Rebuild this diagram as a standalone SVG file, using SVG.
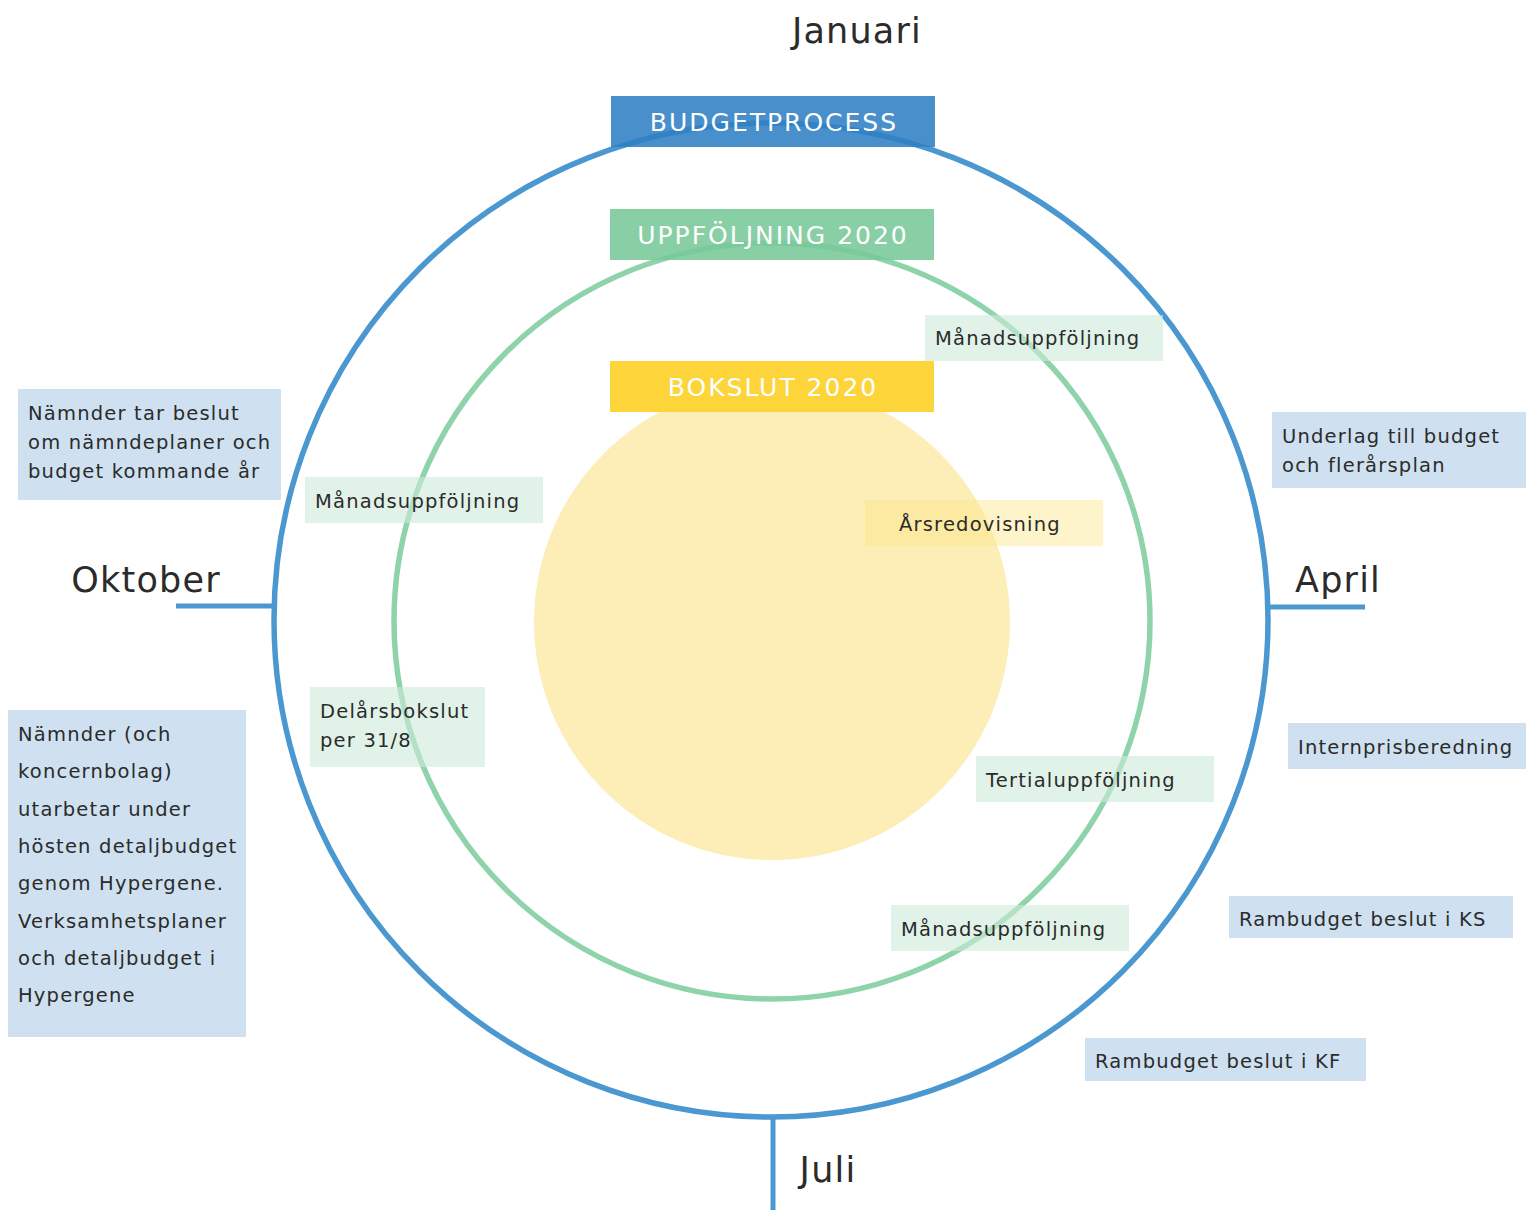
<svg xmlns="http://www.w3.org/2000/svg" width="1538" height="1210" viewBox="0 0 1538 1210">
<style>
text{font-family:"DejaVu Sans","Noto Sans",sans-serif;fill:#2b2b2b}
.month{font-size:35px;letter-spacing:1.2px}
.head{font-size:25px;fill:#fff;text-anchor:middle;letter-spacing:2px}
.lbl{font-size:19.5px;letter-spacing:1.2px}
.blue{fill:#cfe1f0}
.green{fill:#cdebd8;fill-opacity:0.6}
.ring{fill:none;stroke-width:5.5}
</style>
<rect width="1538" height="1210" fill="#fff"/>
<g id="connectors">
<circle cx="772" cy="622" r="238" fill="#fdedb6"/>
<circle class="ring" cx="772" cy="621" r="378" stroke="#8fd3aa"/>
<circle class="ring" cx="771" cy="620" r="497" stroke="#4b98d0"/>
<line x1="176" y1="606" x2="273" y2="606" stroke="#4b98d0" stroke-width="5"/>
<line x1="1269" y1="607" x2="1365" y2="607" stroke="#4b98d0" stroke-width="5"/>
<line x1="773" y1="1117" x2="773" y2="1210" stroke="#4b98d0" stroke-width="5"/>
</g>
<g id="januari"><text class="month" x="857" y="43" text-anchor="middle">Januari</text></g>
<g id="oktober"><text class="month" x="146" y="592" text-anchor="middle">Oktober</text></g>
<g id="april"><text class="month" x="1338" y="592" text-anchor="middle">April</text></g>
<g id="juli"><text class="month" x="828" y="1182" text-anchor="middle">Juli</text></g>
<g id="budgetprocess"><rect x="611" y="96" width="324" height="51" fill="#2f80c4" fill-opacity="0.88"/><text class="head" x="774" y="131">BUDGETPROCESS</text></g>
<g id="uppfoljning"><rect x="610" y="209" width="324" height="51" fill="#78c898" fill-opacity="0.88"/><text class="head" x="773" y="244">UPPFÖLJNING 2020</text></g>
<g id="bokslut"><rect x="610" y="361" width="324" height="51" fill="#fdd43a"/><text class="head" x="773" y="396">BOKSLUT 2020</text></g>
<g id="manad1"><rect class="green" x="925" y="315" width="238" height="46"/><text class="lbl" x="935" y="345">Månadsuppföljning</text></g>
<g id="namnder1"><rect class="blue" x="18" y="389" width="263" height="111"/><text class="lbl" x="28" y="420">Nämnder tar beslut</text><text class="lbl" x="28" y="449">om nämndeplaner och</text><text class="lbl" x="28" y="478">budget kommande år</text></g>
<g id="underlag"><rect class="blue" x="1272" y="412" width="254" height="76"/><text class="lbl" x="1282" y="443">Underlag till budget</text><text class="lbl" x="1282" y="472">och flerårsplan</text></g>
<g id="manad2"><rect class="green" x="305" y="477" width="238" height="46"/><text class="lbl" x="315" y="508">Månadsuppföljning</text></g>
<g id="arsredovisning"><rect x="865" y="500" width="238" height="46" fill="#fde68a" fill-opacity="0.45"/><text class="lbl" x="899" y="531">Årsredovisning</text></g>
<g id="delars"><rect class="green" x="310" y="687" width="175" height="80"/><text class="lbl" x="320" y="718">Delårsbokslut</text><text class="lbl" x="320" y="747">per 31/8</text></g>
<g id="namnder2"><rect class="blue" x="8" y="710" width="238" height="327"/>
<text class="lbl" x="18" y="741">Nämnder (och</text>
<text class="lbl" x="18" y="778">koncernbolag)</text>
<text class="lbl" x="18" y="816">utarbetar under</text>
<text class="lbl" x="18" y="853">hösten detaljbudget</text>
<text class="lbl" x="18" y="890">genom Hypergene.</text>
<text class="lbl" x="18" y="928">Verksamhetsplaner</text>
<text class="lbl" x="18" y="965">och detaljbudget i</text>
<text class="lbl" x="18" y="1002">Hypergene</text></g>
<g id="internpris"><rect class="blue" x="1288" y="723" width="238" height="46"/><text class="lbl" x="1298" y="754">Internprisberedning</text></g>
<g id="tertial"><rect class="green" x="976" y="756" width="238" height="46"/><text class="lbl" x="986" y="787">Tertialuppföljning</text></g>
<g id="manad3"><rect class="green" x="891" y="905" width="238" height="46"/><text class="lbl" x="901" y="936">Månadsuppföljning</text></g>
<g id="rambudgetks"><rect class="blue" x="1229" y="896" width="284" height="42"/><text class="lbl" x="1239" y="926">Rambudget beslut i KS</text></g>
<g id="rambudgetkf"><rect class="blue" x="1085" y="1038" width="281" height="43"/><text class="lbl" x="1095" y="1068">Rambudget beslut i KF</text></g>
</svg>
